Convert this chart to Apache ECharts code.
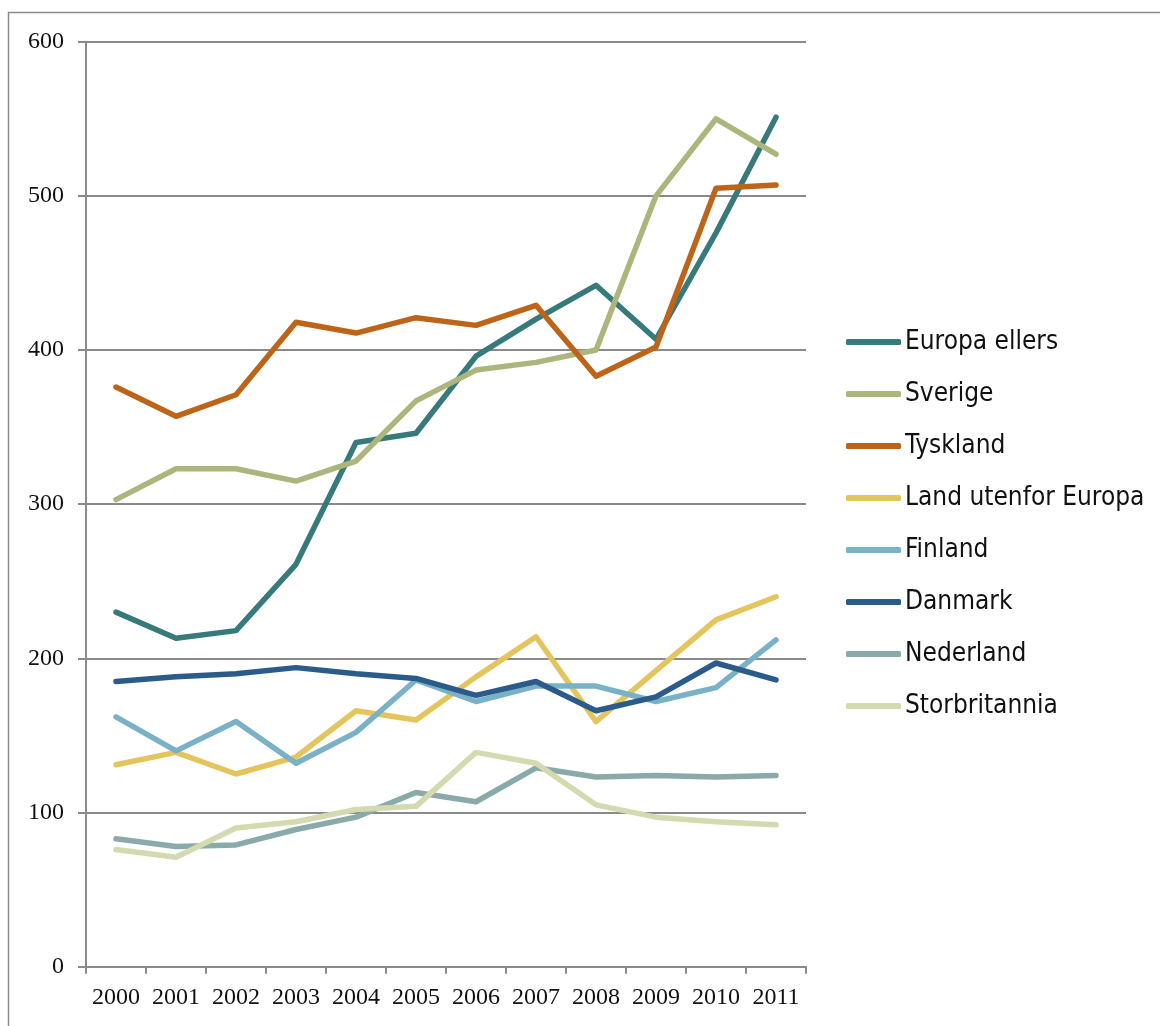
<!DOCTYPE html>
<html>
<head>
<meta charset="utf-8">
<script src="https://cdn.jsdelivr.net/npm/echarts@6/dist/echarts.min.js"></script>
<style>
html,body{margin:0;padding:0;background:#fff;}
#chart{width:1160px;height:1026px;}
</style>
</head>
<body>
<div id="chart"></div>
<script>
const years = ['2000','2001','2002','2003','2004','2005','2006','2007','2008','2009','2010','2011'];
const europaEllers = [230,213,218,261,340,346,396,420,442,407,476,551];
const sverige      = [303,323,323,315,328,367,387,392,400,500,550,527];
const tyskland     = [376,357,371,418,411,421,416,429,383,402,505,507];
const landUtenfor  = [131,139,125,136,166,160,188,214,159,192,225,240];
const finland      = [162,140,159,132,152,186,172,182,182,172,181,212];
const danmark      = [185,188,190,194,190,187,176,185,166,175,197,186];
const nederland    = [83,78,79,89,97,113,107,129,123,124,123,124];
const storbritannia= [76,71,90,94,102,104,139,132,105,97,94,92];
const yTicks = [0,100,200,300,400,500,600];

const seriesDefs = [
  ['Europa ellers', europaEllers, '#367a7b'],
  ['Sverige', sverige, '#abb57c'],
  ['Tyskland', tyskland, '#be6418'],
  ['Land utenfor Europa', landUtenfor, '#e4c55d'],
  ['Finland', finland, '#79b2c6'],
  ['Danmark', danmark, '#2b5b8b'],
  ['Nederland', nederland, '#8aaaaa'],
  ['Storbritannia', storbritannia, '#d3daaf']
];

const serifFont = "'Liberation Serif', 'Times New Roman', serif";
const chart = echarts.init(document.getElementById('chart'), null, {renderer:'canvas'});
const axisGray = '#8a8a8a';
chart.setOption({
  animation:false,
  backgroundColor:'#fff',
  graphic:[{
    type:'rect', silent:true, z:-1,
    shape:{x:8.5,y:12.5,width:1200,height:1100},
    style:{fill:'none',stroke:'#8a8a8a',lineWidth:1.5}
  }],
  grid:{left:86,top:41.7,right:354,bottom:59.3,containLabel:false},
  legend:{
    orient:'vertical', left:841, top:322,
    itemWidth:55, itemHeight:6, itemGap:22,
    icon:'roundRect',
    textStyle:{fontFamily:"'DejaVu Sans Condensed', 'Liberation Sans Narrow', sans-serif", fontSize:26, lineHeight:30, color:'#111', padding:[0,0,0,-1]},
    data: seriesDefs.map(s=>s[0])
  },
  xAxis:{
    type:'category', data:years, boundaryGap:true,
    axisLine:{lineStyle:{color:axisGray,width:2}},
    axisTick:{show:true,length:7,interval:0,lineStyle:{color:axisGray,width:2}},
    axisLabel:{fontFamily:serifFont,fontSize:24,color:'#111',margin:19,interval:0,hideOverlap:false}
  },
  yAxis:{
    type:'value', min:0, max:600, interval:100,
    axisLine:{show:true,lineStyle:{color:axisGray,width:2}},
    axisTick:{show:true,length:8,lineStyle:{color:axisGray,width:2}},
    axisLabel:{fontFamily:serifFont,fontSize:24,color:'#111',margin:22,
      formatter:v=>yTicks.includes(v)?String(v):''},
    splitLine:{show:true,lineStyle:{color:axisGray,width:2}}
  },
  series: seriesDefs.map(([name,data,color])=>({
    name, type:'line', data, showSymbol:false, symbol:'none',
    color, lineStyle:{color,width:5.5,cap:'round',join:'round'},
    itemStyle:{color}
  }))
});
</script>
</body>
</html>
